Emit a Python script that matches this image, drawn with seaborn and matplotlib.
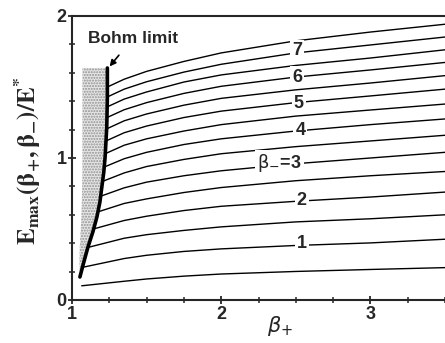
import matplotlib
matplotlib.use("Agg")
import matplotlib.pyplot as plt
import numpy as np
import pandas as pd
import seaborn as sns

# ---------------- data ----------------
beta_minus = [0.5, 1.0, 1.5, 2.0, 2.5, 3.0, 3.5, 4.0, 4.5, 5.0, 5.5, 6.0, 6.5, 7.0, 7.5]
x_grid = [1.35, 1.5, 1.75, 2.0, 2.5, 3.0, 3.5]

# starting point of every curve (on the Bohm limit, except the lowest one)
start_x = [1.065, 1.07, 1.106, 1.143, 1.172, 1.19, 1.204, 1.213, 1.222, 1.228, 1.232, 1.235, 1.236, 1.237, 1.237]
start_y = [0.10, 0.23, 0.37, 0.50, 0.62, 0.73, 0.835, 0.935, 1.03, 1.12, 1.205, 1.285, 1.36, 1.43, 1.50]

# E_max / E* on x_grid for every beta_minus
e_b05 = [0.132, 0.148, 0.168, 0.183, 0.201, 0.215, 0.228]
e_b10 = [0.292, 0.315, 0.342, 0.360, 0.384, 0.402, 0.428]
e_b15 = [0.435, 0.460, 0.490, 0.515, 0.550, 0.572, 0.600]
e_b20 = [0.560, 0.590, 0.630, 0.660, 0.695, 0.725, 0.760]
e_b25 = [0.680, 0.712, 0.757, 0.792, 0.840, 0.875, 0.905]
e_b30 = [0.790, 0.830, 0.875, 0.910, 0.960, 1.000, 1.040]
e_b35 = [0.895, 0.940, 0.990, 1.030, 1.080, 1.120, 1.160]
e_b40 = [0.995, 1.040, 1.095, 1.135, 1.190, 1.235, 1.275]
e_b45 = [1.090, 1.135, 1.190, 1.235, 1.295, 1.338, 1.380]
e_b50 = [1.178, 1.225, 1.285, 1.330, 1.390, 1.437, 1.485]
e_b55 = [1.262, 1.310, 1.372, 1.420, 1.480, 1.528, 1.580]
e_b60 = [1.340, 1.390, 1.455, 1.505, 1.570, 1.620, 1.673]
e_b65 = [1.415, 1.465, 1.535, 1.585, 1.652, 1.704, 1.762]
e_b70 = [1.485, 1.537, 1.605, 1.660, 1.740, 1.796, 1.852]
e_b75 = [1.555, 1.610, 1.680, 1.740, 1.825, 1.887, 1.942]
curve_values = [e_b05, e_b10, e_b15, e_b20, e_b25, e_b30, e_b35, e_b40,
                e_b45, e_b50, e_b55, e_b60, e_b65, e_b70, e_b75]

# Bohm limit line and shaded (forbidden) region
bohm_x = [1.053, 1.080, 1.107, 1.140, 1.167, 1.187, 1.200, 1.213, 1.222, 1.233, 1.237, 1.237]
bohm_y = [0.162, 0.270, 0.373, 0.480, 0.585, 0.690, 0.796, 0.900, 1.007, 1.218, 1.430, 1.634]
shade_left_x = [1.053, 1.050, 1.052, 1.058, 1.063, 1.066, 1.068, 1.070, 1.070, 1.070, 1.070, 1.070]

# curve labels
label_text = ["1", "2", r"$\mathrm{\beta}_{-}$=3", "4", "5", "6", "7"]
label_x = [2.54, 2.54, 2.39, 2.53, 2.52, 2.51, 2.51]
label_y = [0.401, 0.704, 0.965, 1.197, 1.387, 1.570, 1.754]

# ---------------- build long table ----------------
rows = []
for b, sx, sy, vals in zip(beta_minus, start_x, start_y, curve_values):
    rows.append((b, 0, sx, sy))
    for i, (gx, gy) in enumerate(zip(x_grid, vals)):
        rows.append((b, i + 1, gx, gy))
df = pd.DataFrame(rows, columns=["beta_minus", "order", "x", "y"])
bohm_df = pd.DataFrame({"x": bohm_x, "y": bohm_y})

# ---------------- plot ----------------
sns.set_style("ticks")
plt.rcParams["font.family"] = ["Liberation Sans", "DejaVu Sans"]

fig = plt.figure(figsize=(4.45, 3.43), dpi=100)
ax = fig.add_axes([72 / 445, 43 / 343, 373 / 445, 284 / 343])

ax.fill_betweenx(bohm_y, shade_left_x, bohm_x, facecolor="#e6e6e6",
                 hatch="......", edgecolor="#909090", linewidth=0)

sns.lineplot(data=df, x="x", y="y", units="beta_minus", estimator=None,
             sort=False, color="black", linewidth=1.0, ax=ax)
sns.lineplot(data=bohm_df, x="x", y="y", estimator=None, sort=False,
             color="black", linewidth=2.6, ax=ax)

for t, lx, ly in zip(label_text, label_x, label_y):
    ax.text(lx, ly, t, ha="center", va="center", fontsize=13, fontweight="bold",
            math_fontfamily="dejavusans",
            bbox=dict(facecolor="white", edgecolor="none", pad=1.5))

ax.annotate("Bohm limit", xy=(1.252, 1.645), xytext=(1.41, 1.845),
            ha="center", va="center", fontsize=12.5, fontweight="bold",
            arrowprops=dict(arrowstyle="-|>", color="black", lw=1.2,
                            mutation_scale=9, shrinkA=6, shrinkB=0))

ax.set_xlim(1, 1 + 373 / 150)
ax.set_ylim(0, 2)
ax.set_xticks([1, 2, 3])
ax.set_yticks([0, 1, 2])
ax.set_xticks(np.arange(1, 3.6, 0.25), minor=True)
ax.set_yticks(np.arange(0, 2.01, 0.2), minor=True)
ax.tick_params(which="major", direction="inout", length=6, width=1.3,
               labelsize=13, pad=1)
ax.tick_params(which="minor", direction="inout", length=5, width=1.1)
for lab in ax.get_xticklabels() + ax.get_yticklabels():
    lab.set_fontweight("bold")

for s in ["left", "bottom", "top"]:
    ax.spines[s].set_linewidth(1.5)
    ax.spines[s].set_visible(True)
ax.spines["right"].set_visible(False)

ax.set_xlabel(r"$\beta_{+}$", fontsize=15, math_fontfamily="dejavusans")
ax.xaxis.set_label_coords((280 - 72) / 373, -0.05)
ax.set_ylabel(r"$\mathbf{E_{max}(\beta_{+},\beta_{-})/E^{*}}$", fontsize=18,
              math_fontfamily="stix")
ax.yaxis.set_label_coords(-0.078, 0.49)

fig.savefig("out.png", dpi=100)
